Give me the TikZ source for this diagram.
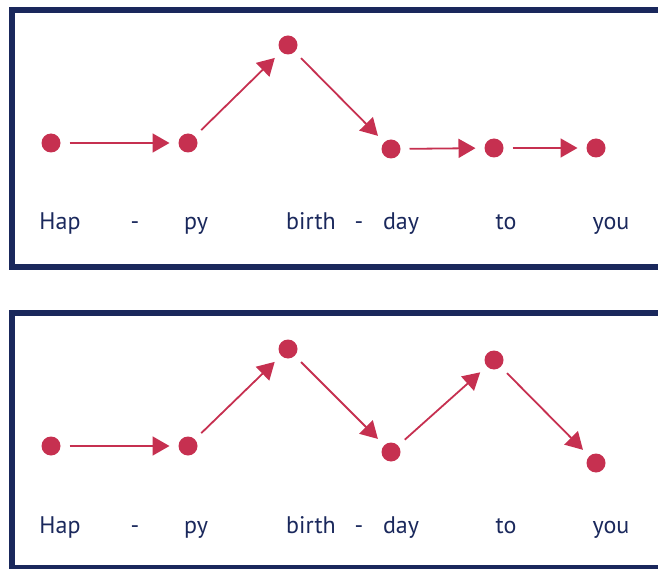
\documentclass[tikz,border=0pt]{standalone}
\usepackage{fontspec}
\setmainfont{PT Sans}
\usetikzlibrary{arrows.meta}

\definecolor{notered}{RGB}{198,48,80}
\definecolor{inknavy}{RGB}{26,40,92}

\begin{document}
\begin{tikzpicture}[x=1pt, y=-1pt,
  note/.style={circle, fill=notered, inner sep=0pt, minimum size=19pt, outer sep=0pt},
  move/.style={-{Triangle[length=17pt,width=19pt]}, line width=1.8pt, draw=notered,
    shorten <=9pt, shorten >=9pt},
  syl/.style={font=\fontsize{24}{28}\selectfont, text=inknavy, anchor=base},
  frame/.style={draw=inknavy, line width=6pt}]
  \useasboundingbox (0,0) rectangle (658,569);

  % upper panel: flat ending
  \draw[frame] (11.5,10) rectangle (720,267);
  \node[note] (a1) at (51,143) {};
  \node[note] (a2) at (188,143) {};
  \node[note] (a3) at (288,45) {};
  \node[note] (a4) at (391,149) {};
  \node[note] (a5) at (494,148) {};
  \node[note] (a6) at (596,148) {};
  \draw[move] (a1) -- (a2);
  \draw[move] (a2) -- (a3);
  \draw[move] (a3) -- (a4);
  \draw[move] (a4) -- (a5);
  \draw[move] (a5) -- (a6);
  \node[syl] (ha) at (60,230) {Hap};
  \node[syl] (hb) at (135,230) {-};
  \node[syl] (hc) at (196,230) {py};
  \node[syl] (hd) at (311,230) {birth};
  \node[syl] (he) at (359,230) {-};
  \node[syl] (hf) at (401,230) {day};
  \node[syl] (hg) at (506,230) {to};
  \node[syl] (hh) at (611,230) {you};

  % lower panel: up and down again
  \draw[frame] (11.5,313) rectangle (720,568);
  \node[note] (b1) at (51,446) {};
  \node[note] (b2) at (188,446) {};
  \node[note] (b3) at (288,349) {};
  \node[note] (b4) at (391,452) {};
  \node[note] (b5) at (494,360) {};
  \node[note] (b6) at (596,463) {};
  \draw[move] (b1) -- (b2);
  \draw[move] (b2) -- (b3);
  \draw[move] (b3) -- (b4);
  \draw[move] (b4) -- (b5);
  \draw[move] (b5) -- (b6);
  \node[syl] (ka) at (60,533) {Hap};
  \node[syl] (kb) at (135,533) {-};
  \node[syl] (kc) at (196,533) {py};
  \node[syl] (kd) at (311,533) {birth};
  \node[syl] (ke) at (359,533) {-};
  \node[syl] (kf) at (401,533) {day};
  \node[syl] (kg) at (506,533) {to};
  \node[syl] (kh) at (611,533) {you};
\end{tikzpicture}
\end{document}
